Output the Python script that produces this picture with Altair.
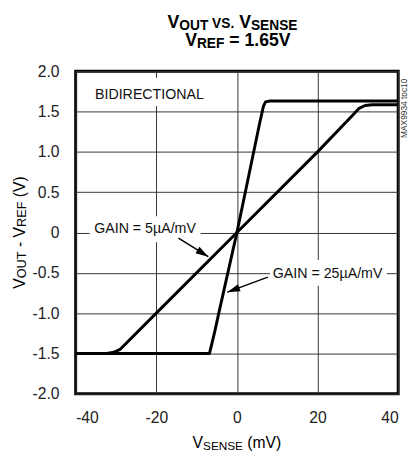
import altair as alt
import pandas as pd

# ---- data ----
sense_5 = [-40, -32.3, -30.5, -29, -20, 0, 20, 29, 30.3, 31.8, 33.5, 40]
vout_5 = [-1.5, -1.5, -1.485, -1.45, -1.0, 0, 1.0, 1.47, 1.54, 1.575, 1.585, 1.585]
sense_25 = [-40, -6.8, -5.5, -4.5, 0, 5.7, 6.6, 7.1, 8, 40]
vout_25 = [-1.5, -1.5, -1.23, -1.0, 0, 1.37, 1.57, 1.62, 1.63, 1.63]
x_ticks = [-40, -20, 0, 20, 40]
y_ticks = [-2.0, -1.5, -1.0, -0.5, 0, 0.5, 1.0, 1.5, 2.0]

FN = "Liberation Sans, Arial, sans-serif"

rows = []
for i, (a, b) in enumerate(zip(sense_5, vout_5)):
    rows.append({"s": "g5", "i": i, "x": a, "y": b})
for i, (a, b) in enumerate(zip(sense_25, vout_25)):
    rows.append({"s": "g25", "i": i, "x": a, "y": b})
curves = pd.DataFrame(rows)

xs = alt.Scale(domain=[-40, 40], nice=False, zero=False)
ys = alt.Scale(domain=[-2, 2], nice=False, zero=False)
xax = alt.Axis(values=x_ticks, labelExpr="datum.value + ''", labelPadding=16,
               title=None)
yax = alt.Axis(values=y_ticks,
               labelExpr="datum.value == 0 ? '0' : (datum.value % 1 == 0 ? datum.value + '.0' : datum.value + '')",
               labelPadding=17, title=None)


def X(f="x"):
    return alt.X(f"{f}:Q", scale=xs, axis=xax, title=None)


def Y(f="y"):
    return alt.Y(f"{f}:Q", scale=ys, axis=yax, title=None)


# white boxes behind annotation texts (break the grid like the reference)
boxes = pd.DataFrame({"x": [-37, -36.5, 8.2], "x2": [-9.5, -9.0, 37.2],
                      "y": [1.57, -0.12, -0.34], "y2": [1.92, 0.2, -0.66]})
box_layer = alt.Chart(boxes).mark_rect(color="white").encode(
    x=X(), x2="x2:Q", y=Y(), y2="y2:Q")

line_layer = alt.Chart(curves).mark_line(
    color="black", strokeWidth=3, strokeJoin="round", strokeCap="butt"
).encode(x=X(), y=Y(), detail="s:N", order="i:Q")

arrows = pd.DataFrame({"a": [1, 1, 2, 2], "i": [0, 1, 0, 1],
                       "x": [-14.5, -7.1, 7.66, -2.38],
                       "y": [-0.07, -0.30, -0.553, -0.74]})
shaft_layer = alt.Chart(arrows).mark_line(color="black", strokeWidth=1.5).encode(
    x=X(), y=Y(), detail="a:N", order="i:Q")

heads = pd.DataFrame({"x": [-7.1, -2.38], "y": [-0.30, -0.74], "ang": [121.8, 249.7]})
head_layer = alt.Chart(heads).mark_point(
    shape="M0,0L0.6,2L-0.6,2Z", filled=True, color="black", size=169, opacity=1
).encode(x=X(), y=Y(), angle=alt.Angle("ang:Q", scale=None))

notes = pd.DataFrame({"x": [-35.2, -35.4, 8.9], "y": [1.651, 0.0, -0.565],
                      "t": ["BIDIRECTIONAL", "GAIN = 5µA/mV", "GAIN = 25µA/mV"]})
note_layer = alt.Chart(notes).mark_text(
    align="left", baseline="alphabetic", font=FN, color="#111", fontSize=14.5
).encode(x=X(), y=Y(), text="t:N")

# approximate Liberation Sans advance widths (em) for layout of rich labels
W_REG = {"V": .667, "O": .778, "U": .722, "T": .611, "S": .667, "E": .667,
         "N": .722, "R": .722, "F": .611, " ": .278, ".": .278, "=": .584,
         "1": .556, "6": .556, "5": .556, "-": .333, "(": .333, ")": .333, "m": .833}
W_BOLD = dict(W_REG, m=.889)


def width(s, size, bold):
    w = W_BOLD if bold else W_REG
    return sum(w.get(c, .6) for c in s) * size


def txt(s, x, y, size, bold=False, angle=0, color="black"):
    kw = dict(align="left", baseline="alphabetic", fontSize=size, font=FN, color=color)
    if bold:
        kw["fontWeight"] = "bold"
    if angle:
        kw["angle"] = angle
    return alt.Chart(pd.DataFrame({"t": [s]})).mark_text(**kw).encode(
        x=alt.value(x), y=alt.value(y), text="t:N")


def run(pieces, center, base, bold=False, vertical=False):
    """pieces: (text, size, shift, gap_em_before)"""
    sizes = [(width(t, s, bold) + g * s) for t, s, _, g in pieces]
    total = sum(sizes)
    out = []
    if not vertical:
        pos = center - total / 2
        for (t, s, sh, g), w in zip(pieces, sizes):
            pos += g * s
            out.append(txt(t, pos, base + sh, s, bold))
            pos += w - g * s
    else:
        pos = center + total / 2
        for (t, s, sh, g), w in zip(pieces, sizes):
            pos -= g * s
            out.append(txt(t, base + sh, pos, s, bold, angle=270))
            pos -= w - g * s
    return out


labels = []
# title
labels += run([("V", 18, 0, 0), ("OUT", 14, 1.7, 0), ("VS.", 14, 0, .278),
               ("V", 18, 0, .278), ("SENSE", 14, 1.7, 0)], 160, -43.7, bold=True)
labels += run([("V", 18, 0, 0), ("REF", 14, 1.7, 0), ("= 1.65V", 18, 0, .278)],
              165.5, -25.7, bold=True)
# x axis title
labels += run([("V", 16, 0, 0), ("SENSE", 12, 2, 0), ("(mV)", 16, 0, .278)], 164.5, 384)
# y axis title (reading upward)
labels += run([("V", 16, 0, 0), ("OUT", 13, 1, 0), ("-", 16, 0, .278),
               ("V", 16, 0, .278), ("REF", 13, 1, 0), ("(V)", 16, 0, .278)],
              164.5, -52, vertical=True)
# figure id
labels.append(txt("MAX9934 toc10", 338, 68, 8.5, angle=270, color="#333"))

chart = alt.layer(box_layer, line_layer, shaft_layer, head_layer, note_layer, *labels).properties(
    width=329, height=329,
    autosize=alt.AutoSizeParams(type="none"),
    padding={"left": 69, "top": 60, "right": 10, "bottom": 60},
).configure_view(
    stroke="black", strokeWidth=3
).configure_axis(
    grid=True, gridColor="#333333", gridWidth=1, gridOpacity=1,
    domain=False, ticks=False,
    labelFont=FN, labelFontSize=16, labelColor="#222222",
)

chart.save("out.html", embed_options={"renderer": "svg", "actions": False})
